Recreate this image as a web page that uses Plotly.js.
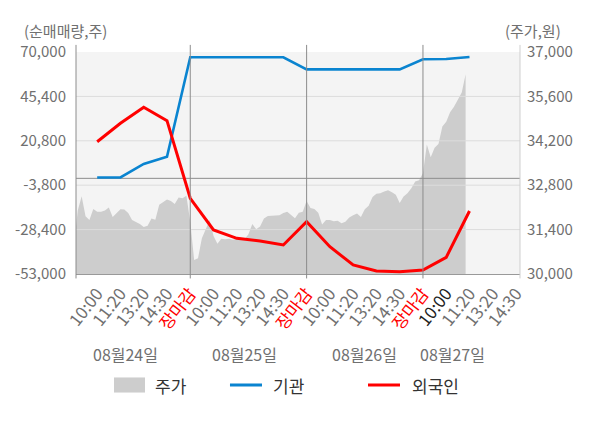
<!DOCTYPE html>
<html>
<head>
<meta charset="utf-8">
<script src="https://cdn.plot.ly/plotly-3.0.1.min.js"></script>
<style>
  html, body { margin: 0; padding: 0; background: #fff; }
  #chart { width: 600px; height: 428px; }
</style>
</head>
<body>
<div id="chart"></div>
<script>
// chart values
var days = ['08월24일', '08월25일', '08월26일', '08월27일'];
var slotNames = ['10:00', '11:20', '13:20', '14:30', '장마감'];

// net buying (주), one value per slot from 08/24 10:00 to 08/27 11:20
var instNet = [500, 500, 7950, 12000, 67060,
               67060, 67060, 67060, 67060, 60400,
               60400, 60400, 60400, 60400, 65950,
               66100, 67230];
var foreignNet = [20300, 30490, 39350, 31950, -11060,
                  -28620, -33220, -34715, -36930, -24020,
                  -37870, -48010, -51340, -51710, -50780,
                  -43750, -18090];

// intraday price (원), equal time steps, 30 per day
var priceDay1 = [30914, 32000, 32450, 31820, 31700, 32050, 31965, 31960, 32000, 32100,
                 31800, 31930, 32040, 32030, 31920, 31700, 31630, 31580, 31480, 31520,
                 31750, 31710, 32180, 32260, 32350, 32300, 32210, 32410, 32390, 32470];
var priceDay2 = [31650, 30440, 30500, 31125, 31440, 31700, 31200, 30950, 31110, 31094,
                 31110, 31080, 31110, 31090, 31094, 31250, 31580, 31410, 31500, 31750,
                 31830, 31840, 31830, 31850, 31920, 31960, 31860, 31760, 31930, 31960];
var priceDay3 = [32300, 32080, 32050, 31930, 31560, 31700, 31700, 31660, 31680, 31600,
                 31650, 31780, 31850, 31910, 31800, 32040, 32150, 32430, 32530, 32550,
                 32600, 32640, 32580, 32500, 32240, 32440, 32550, 32700, 32920, 32960];
var priceDay4 = [33175, 34080, 33680, 33980, 34100, 34650, 34800, 35100, 35270, 35500,
                 35720, 36300];

var leftTicks = [-53000, -28400, -3800, 20800, 45400, 70000];
var rightTicks = [30000, 31400, 32800, 34200, 35600, 37000];

// ---- build traces ----
var stepsPerDay = 30;
var slotsPerDay = 5;
var xRange = [0.09, 19.17];

var priceX = [], priceY = [];
[priceDay1, priceDay2, priceDay3, priceDay4].forEach(function (arr, d) {
  arr.forEach(function (v, i) {
    priceX.push(d * slotsPerDay + i * slotsPerDay / stepsPerDay);
    priceY.push(v);
  });
});

var slotX = instNet.map(function (v, i) { return i + 1; });

var tickVals = [], tickText = [];
for (var s = 1; s <= 19; s++) {
  var name = slotNames[(s - 1) % 5];
  var t = name;
  if (name === '장마감') t = '<span style="color:#ff0000">' + name + '</span>';
  else if (s === 16) t = '<span style="color:#222">' + name + '</span>';
  tickVals.push(s);
  tickText.push(t);
}

var price = {
  x: priceX, y: priceY, yaxis: 'y', type: 'scatter', mode: 'lines',
  name: '주가', fill: 'tozeroy', fillcolor: '#cdcdcd',
  line: {width: 0, color: '#cdcdcd'}
};

// grid lines as traces so they sit above the price area but under the lines
var gridTraces = leftTicks.slice(1, -1).concat([0]).map(function (v) {
  return {
    x: xRange, y: [v, v], yaxis: 'y2', type: 'scatter', mode: 'lines',
    showlegend: false, hoverinfo: 'skip',
    line: {width: 1, color: v === 0 ? '#8c8c8c' : '#dcdcdc'}
  };
});

var inst = {
  x: slotX, y: instNet, yaxis: 'y2', type: 'scatter', mode: 'lines',
  name: '기관', line: {color: '#0a84d0', width: 2.6}
};
var foreign = {
  x: slotX, y: foreignNet, yaxis: 'y2', type: 'scatter', mode: 'lines',
  name: '외국인', line: {color: '#ff0000', width: 3}
};

var data = [price].concat(gridTraces, [inst, foreign]);

var font = 'Noto Sans CJK KR, Noto Sans, sans-serif';

var shapes = [];
// day separators and edge lines, running a little past the plot
[5, 10, 15].forEach(function (x) {
  shapes.push({type: 'line', xref: 'x', yref: 'paper', x0: x, x1: x, y0: -0.02, y1: 1.032,
               line: {color: '#8c8c8c', width: 1}, layer: 'above'});
});
shapes.push({type: 'line', xref: 'paper', yref: 'paper', x0: 0, x1: 0, y0: -0.02, y1: 1.032,
             line: {color: '#8c8c8c', width: 1}, layer: 'above'});
shapes.push({type: 'line', xref: 'paper', yref: 'paper', x0: 1, x1: 1, y0: -0.02, y1: 1.032,
             line: {color: '#cfcfcf', width: 1}, layer: 'above'});

var dayLabelX = [2.2, 7.35, 12.5, 16.25];
var annotations = days.map(function (d, i) {
  return {text: d, x: dayLabelX[i], xref: 'x', y: -0.36, yref: 'paper', yanchor: 'middle',
          showarrow: false, font: {family: font, size: 16, color: '#707070'}};
});
annotations.push({text: '(순매매량,주)', xref: 'paper', yref: 'paper', x: -0.121, y: 1.095,
                  xanchor: 'left', yanchor: 'middle', showarrow: false,
                  font: {family: font, size: 15, color: '#707070'}});
annotations.push({text: '(주가,원)', xref: 'paper', yref: 'paper', x: 1.097, y: 1.095,
                  xanchor: 'right', yanchor: 'middle', showarrow: false,
                  font: {family: font, size: 15, color: '#707070'}});

// legend drawn by hand: swatch / line and label per series
var legendItems = [
  {trace: price, kind: 'box', x0: 0.0856, x1: 0.1554, tx: 0.1734},
  {trace: inst, kind: 'line', x0: 0.3468, x1: 0.4189, tx: 0.4392},
  {trace: foreign, kind: 'line', x0: 0.6577, x1: 0.7297, tx: 0.7523}
];
var legendY = -0.5;
legendItems.forEach(function (it) {
  if (it.kind === 'box') {
    shapes.push({type: 'rect', xref: 'paper', yref: 'paper', x0: it.x0, x1: it.x1,
                 y0: legendY - 0.034, y1: legendY + 0.034,
                 fillcolor: it.trace.fillcolor, line: {width: 0}});
  } else {
    shapes.push({type: 'line', xref: 'paper', yref: 'paper', x0: it.x0, x1: it.x1,
                 y0: legendY, y1: legendY, line: {color: it.trace.line.color, width: 3}});
  }
  annotations.push({text: it.trace.name, xref: 'paper', yref: 'paper', x: it.tx, y: legendY,
                    xanchor: 'left', yanchor: 'middle', showarrow: false,
                    font: {family: font, size: 17, color: '#333'}});
});

var layout = {
  width: 600, height: 428,
  margin: {l: 76, r: 80, t: 52, b: 154, pad: 0},
  paper_bgcolor: '#ffffff', plot_bgcolor: '#f4f4f4',
  font: {family: font, size: 15, color: '#707070'},
  showlegend: false,
  xaxis: {range: xRange, tickvals: tickVals, ticktext: tickText, tickangle: -52,
          showgrid: false, zeroline: false, showline: true, linecolor: '#999', linewidth: 1,
          ticks: '', ticklabelstandoff: 2,
          tickfont: {family: font, size: 17, color: '#707070'}, fixedrange: true},
  yaxis: {side: 'right', range: [30000, 37000], tickvals: rightTicks,
          ticktext: rightTicks.map(function (v) { return v.toLocaleString('en-US'); }),
          showgrid: false, zeroline: false, showline: false, ticks: '', ticklabelstandoff: 6,
          tickfont: {family: font, size: 15, color: '#707070'}},
  yaxis2: {overlaying: 'y', side: 'left', range: [-53000, 70000], tickvals: leftTicks,
           ticktext: leftTicks.map(function (v) { return v.toLocaleString('en-US'); }),
           showgrid: false, zeroline: false, showline: false, ticks: '', ticklabelstandoff: 9,
           tickfont: {family: font, size: 15, color: '#707070'}},
  shapes: shapes,
  annotations: annotations
};

Plotly.newPlot('chart', data, layout, {displayModeBar: false, staticPlot: true});
</script>
</body>
</html>
